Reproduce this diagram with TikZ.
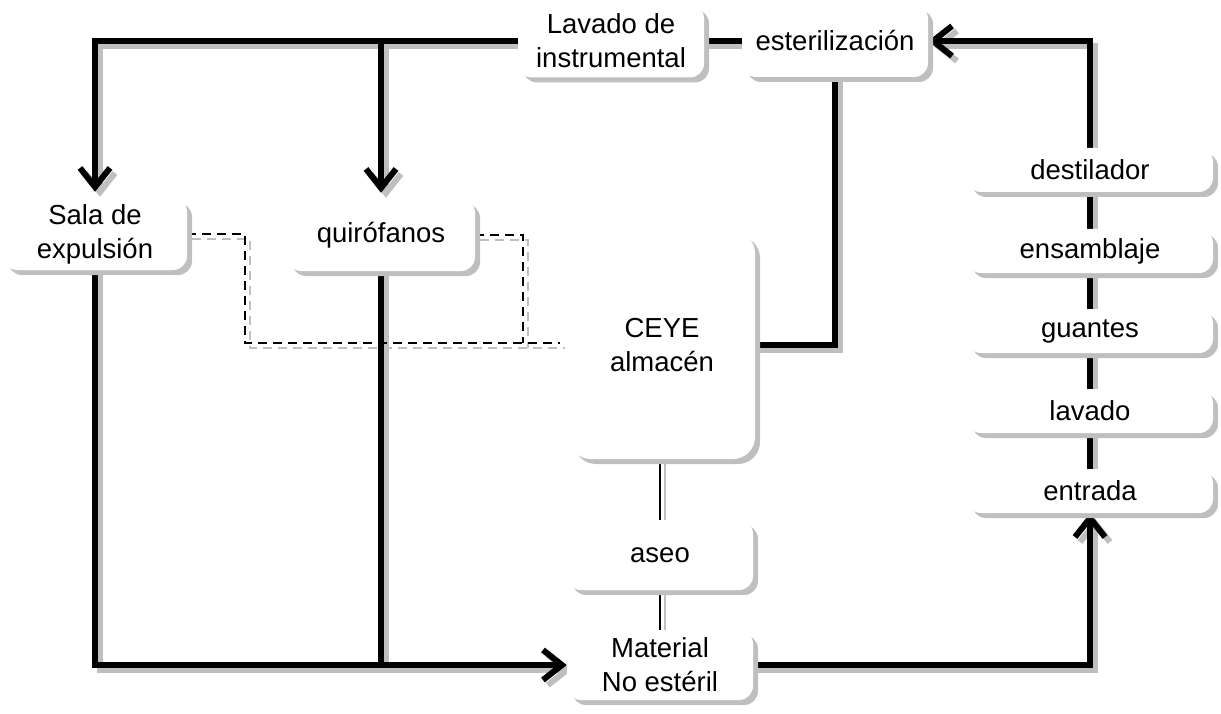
\documentclass[tikz,border=0pt]{standalone}
\usepackage{fontspec}
\setmainfont{Liberation Sans}
\usetikzlibrary{arrows.meta,shadows,calc}
\pgfdeclarelayer{background}
\pgfsetlayers{background,main}
\begin{document}
\begin{tikzpicture}[x=1pt,y=-1pt,
  box/.style={rectangle, rounded corners=14pt, fill=white, inner sep=0pt, align=center,
    font=\fontsize{27.5}{34}\selectfont,
    drop shadow={fill=black!25, opacity=1, shadow xshift=5pt, shadow yshift=-5pt}},
  midbox/.style={box, minimum width=186pt, minimum height=72pt},
  rbox/.style={box, minimum width=246pt, minimum height=44pt},
  conn/.style={line width=6pt, line join=miter},
  arr/.style={-{Straight Barb[length=19pt,width=30pt,line width=6pt]}},
  thinline/.style={line width=2pt},
  dashline/.style={line width=2.5pt, dash pattern=on 9pt off 6pt},
  shcopy/.style={draw=black!25, transform canvas={shift={(5pt,-5pt)}}},
  ]
\useasboundingbox (0,0) rectangle (1221,714);

% nodes
\node[midbox, minimum height=73pt] (lav) at (611,41) {Lavado de\\instrumental};
\node[midbox] (est) at (835,41) {esterilización};
\node[midbox, minimum width=184pt] (sala) at (95,234) {Sala de\\expulsión};
\node[midbox, minimum width=188pt] (qui) at (381,235) {quirófanos};
\node[midbox, minimum height=228pt, rounded corners=22pt] (ceye) at (662,345) {CEYE\\almacén};
\node[midbox, minimum height=70pt] (aseo) at (660,555) {aseo};
\node[midbox, minimum height=70pt] (mat) at (660,665) {Material\\No estéril};
\node[rbox] (des) at (1090,170) {destilador};
\node[rbox] (ens) at (1090,251) {ensamblaje};
\node[rbox] (gua) at (1090,331) {guantes};
\node[rbox] (lvd) at (1090,411) {lavado};
\node[rbox] (ent) at (1090,491) {entrada};

\coordinate (d1) at (245,343);
\coordinate (d2) at (523,343);
\coordinate (dend) at (560,343);

\begin{pgfonlayer}{background}
\foreach \s in {shcopy,black}{
  \draw[conn,arr,\s,shorten >=6pt] (lav.west) -| (sala.north);
  \draw[conn,arr,\s,shorten >=6pt] (qui.north |- lav.west) -- (qui.north);
  \draw[conn,\s] (est.west) -- (lav.east);
  \draw[conn,\s] (est.south) |- (ceye.east);
  \draw[conn,arr,\s] (des.north) |- (est.east);
  \draw[conn,\s] (des.south) -- (ens.north);
  \draw[conn,\s] (ens.south) -- (gua.north);
  \draw[conn,\s] (gua.south) -- (lvd.north);
  \draw[conn,\s] (lvd.south) -- (ent.north);
  \draw[conn,arr,\s] (mat.east) -| (ent.south);
  \draw[conn,arr,\s] (sala.south) |- (mat.west);
  \draw[conn,\s] (qui.south) -- (qui.south |- mat.west);
  \draw[thinline,\s] (ceye.south -| aseo.north) -- (aseo.north);
  \draw[thinline,\s] (aseo.south) -- (mat.north);
  \draw[dashline,\s] (sala.east) -| (d1) -- (dend);
  \draw[dashline,\s] (qui.east) -| (d2);
}
\end{pgfonlayer}
\end{tikzpicture}
\end{document}
